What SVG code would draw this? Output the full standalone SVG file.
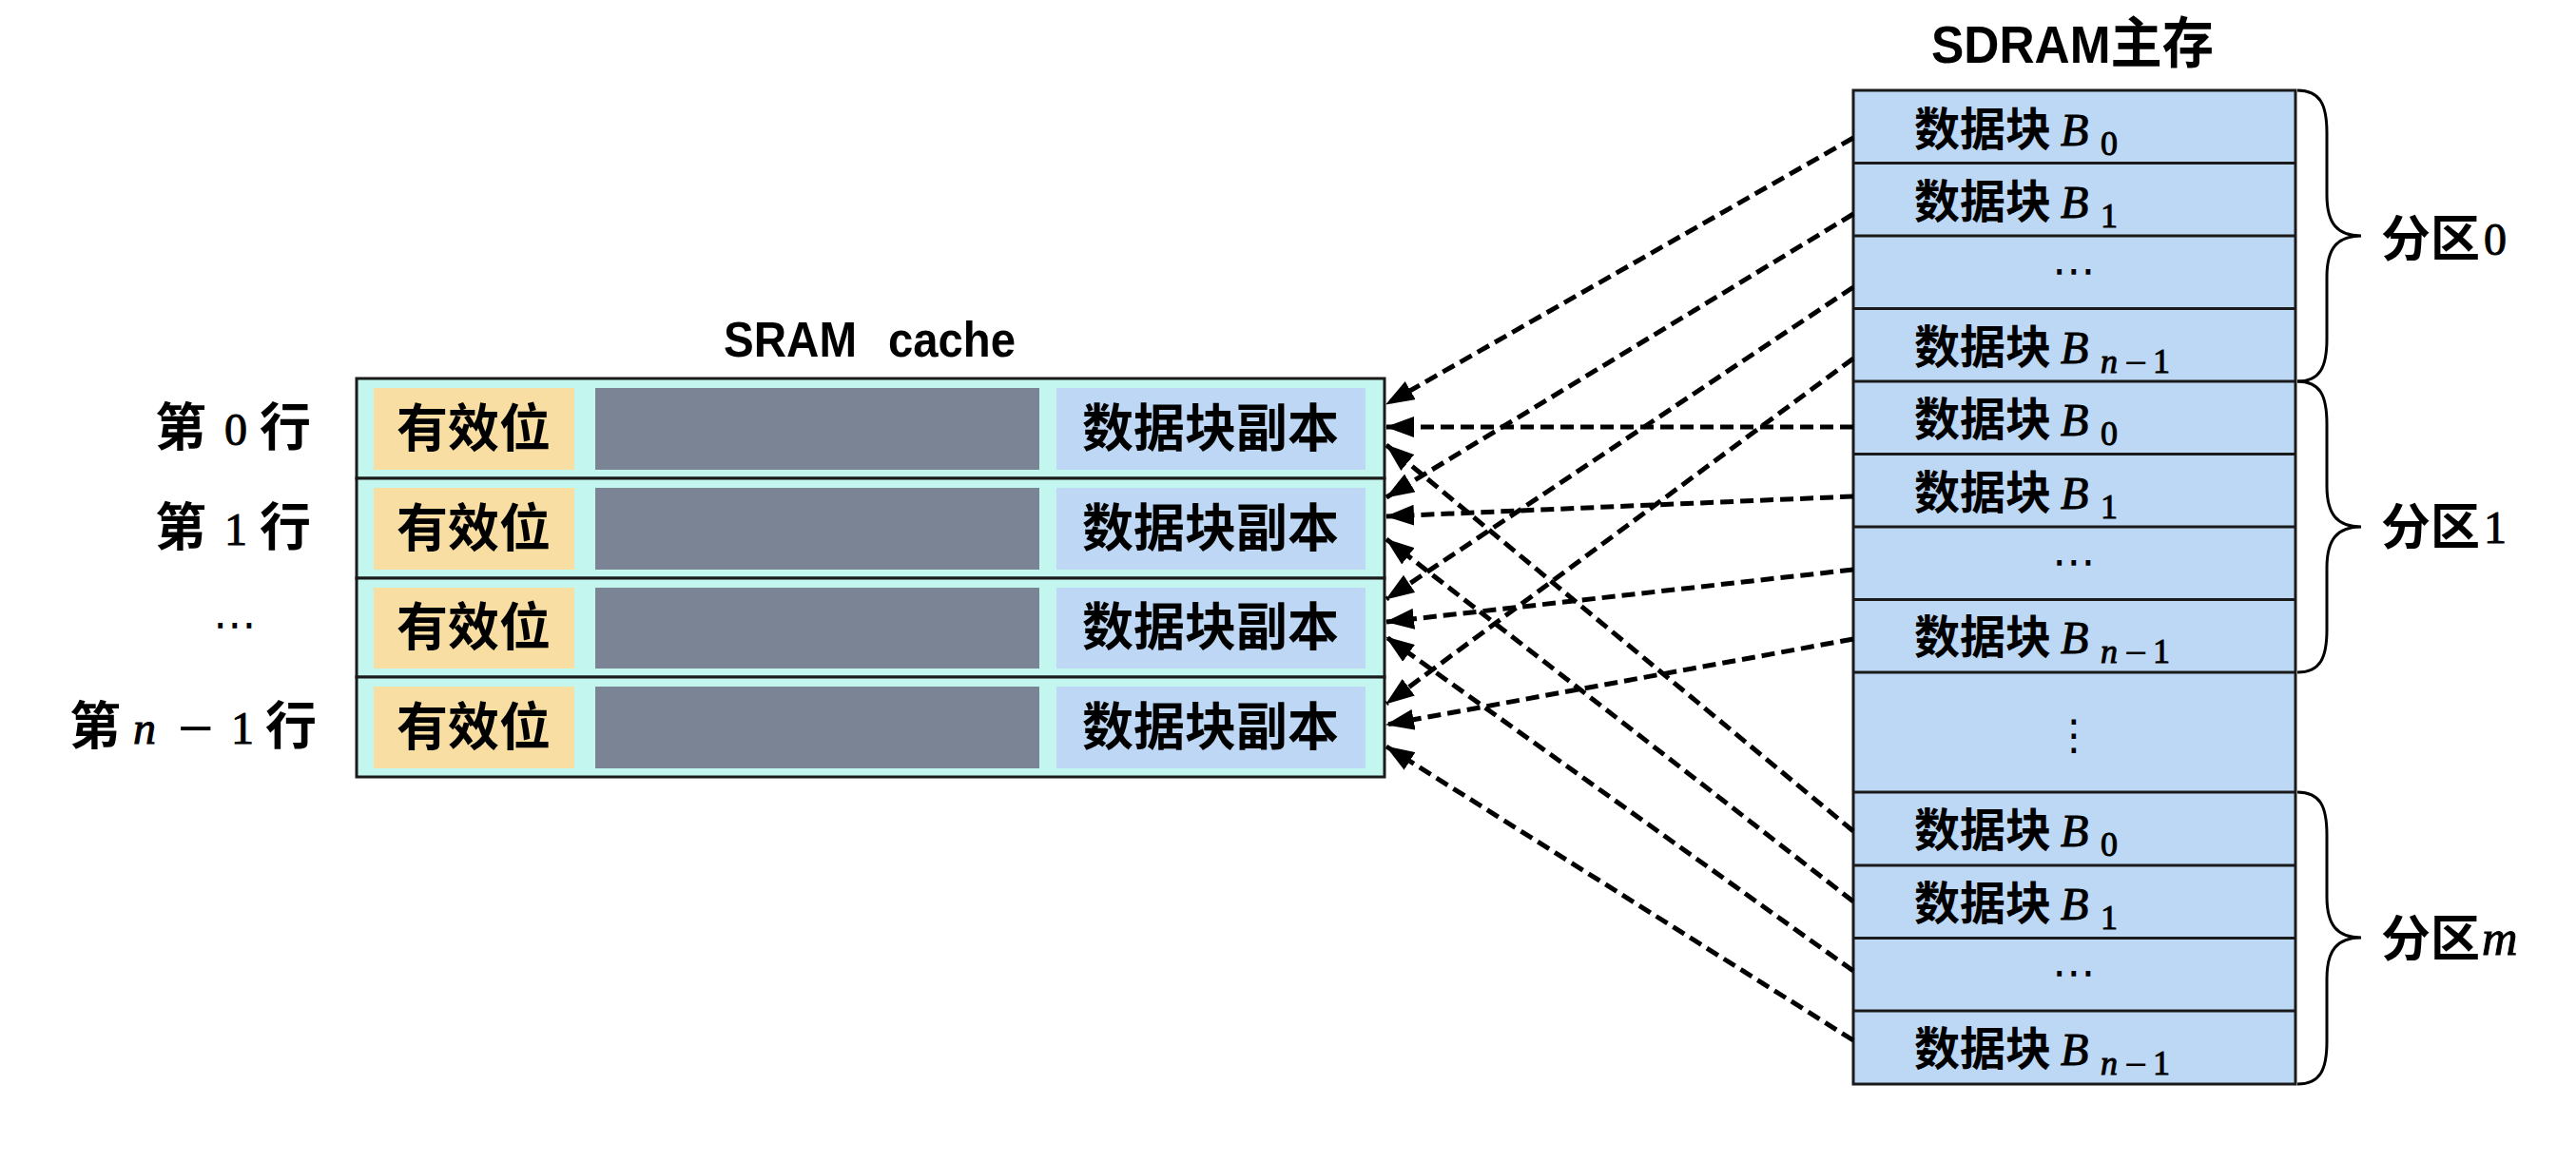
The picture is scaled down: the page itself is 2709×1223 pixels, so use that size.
<svg xmlns="http://www.w3.org/2000/svg" width="2709" height="1223" viewBox="0 0 2709 1223">
<defs>
<style>
.cjk{font-family:"Noto Sans CJK SC","Liberation Sans",sans-serif;font-weight:700;fill:#000}
.lat{font-family:"Liberation Sans",Arial,sans-serif;font-weight:700;fill:#000}
.mi{font-family:"Liberation Serif","DejaVu Serif",serif;font-style:italic;fill:#000;stroke:#000;stroke-width:1}
.mr{font-family:"Liberation Serif","DejaVu Serif",serif;fill:#000;stroke:#000;stroke-width:1}
.mm{font-family:"DejaVu Serif","Liberation Serif",serif;fill:#000}
.dots{font-family:"DejaVu Sans",sans-serif;fill:#000}
.row{fill:#C2F6EE;stroke:#1a1a1a;stroke-width:3}
.valid{fill:#F9DEA3}
.tag{fill:#7A8494}
.copy{fill:#BDD7F4}
.mem{fill:#BDD8F4;stroke:#1a1a1a;stroke-width:3}
.div{stroke:#1a1a1a;stroke-width:3}
.brace{fill:none;stroke:#000;stroke-width:3}
.conn{stroke:#000;stroke-width:5;stroke-dasharray:14 7;fill:none;marker-end:url(#ah)}
</style>
<marker id="ah" markerWidth="30" markerHeight="22" refX="29" refY="11" orient="auto" markerUnits="userSpaceOnUse">
<path d="M0,0 L30,11 L0,22 Z" fill="#000"/>
</marker>
</defs>
<rect width="2709" height="1223" fill="#fff"/>

<!-- Titles -->
<g id="title-sram">
<text class="lat" x="761" y="375" font-size="52" textLength="140" lengthAdjust="spacingAndGlyphs">SRAM</text>
<text class="lat" x="934" y="375" font-size="52" textLength="134" lengthAdjust="spacingAndGlyphs">cache</text>
</g>
<g id="title-sdram">
<text x="2031" y="66" textLength="297" lengthAdjust="spacingAndGlyphs"><tspan class="lat" font-size="55">SDRAM</tspan><tspan class="cjk" font-size="58">主存</tspan></text>
</g>

<!-- Row labels -->
<g id="label-row0">
<text class="cjk" x="163" y="469" font-size="54">第</text>
<text class="mr" x="236" y="468" font-size="48">0</text>
<text class="cjk" x="273" y="469" font-size="54">行</text>
</g>
<g id="label-row1">
<text class="cjk" x="163" y="574" font-size="54">第</text>
<text class="mr" x="236" y="573" font-size="48">1</text>
<text class="cjk" x="273" y="574" font-size="54">行</text>
</g>
<g id="label-row2">
<text class="dots" x="247" y="672" font-size="46" text-anchor="middle">⋯</text>
</g>
<g id="label-row3">
<text class="cjk" x="73" y="783" font-size="54">第</text>
<text class="mi" x="140" y="782" font-size="48">n</text>
<text class="mm" x="185" y="782" font-size="50">−</text>
<text class="mr" x="243" y="782" font-size="48">1</text>
<text class="cjk" x="279" y="783" font-size="54">行</text>
</g>

<!-- Cache rows -->
<g id="cache-row0">
<rect class="row" x="375" y="398" width="1081" height="105"/>
<rect class="valid" x="393" y="408" width="211" height="86"/>
<rect class="tag" x="626" y="408" width="467" height="86"/>
<rect class="copy" x="1111" y="408" width="325" height="86"/>
<text class="cjk" x="498" y="470" font-size="54" text-anchor="middle">有效位</text>
<text class="cjk" x="1273" y="470" font-size="54" text-anchor="middle">数据块副本</text>
</g>
<g id="cache-row1">
<rect class="row" x="375" y="503" width="1081" height="105"/>
<rect class="valid" x="393" y="513" width="211" height="86"/>
<rect class="tag" x="626" y="513" width="467" height="86"/>
<rect class="copy" x="1111" y="513" width="325" height="86"/>
<text class="cjk" x="498" y="575" font-size="54" text-anchor="middle">有效位</text>
<text class="cjk" x="1273" y="575" font-size="54" text-anchor="middle">数据块副本</text>
</g>
<g id="cache-row2">
<rect class="row" x="375" y="608" width="1081" height="104"/>
<rect class="valid" x="393" y="618" width="211" height="85"/>
<rect class="tag" x="626" y="618" width="467" height="85"/>
<rect class="copy" x="1111" y="618" width="325" height="85"/>
<text class="cjk" x="498" y="679" font-size="54" text-anchor="middle">有效位</text>
<text class="cjk" x="1273" y="679" font-size="54" text-anchor="middle">数据块副本</text>
</g>
<g id="cache-row3">
<rect class="row" x="375" y="712" width="1081" height="105"/>
<rect class="valid" x="393" y="722" width="211" height="86"/>
<rect class="tag" x="626" y="722" width="467" height="86"/>
<rect class="copy" x="1111" y="722" width="325" height="86"/>
<text class="cjk" x="498" y="784" font-size="54" text-anchor="middle">有效位</text>
<text class="cjk" x="1273" y="784" font-size="54" text-anchor="middle">数据块副本</text>
</g>

<!-- SDRAM memory -->
<g id="sdram">
<rect class="mem" x="1949" y="95" width="465" height="1045"/>
<line class="div" x1="1949" y1="171.5" x2="2414" y2="171.5"/>
<line class="div" x1="1949" y1="248" x2="2414" y2="248"/>
<line class="div" x1="1949" y1="324.5" x2="2414" y2="324.5"/>
<line class="div" x1="1949" y1="401" x2="2414" y2="401"/>
<line class="div" x1="1949" y1="477.5" x2="2414" y2="477.5"/>
<line class="div" x1="1949" y1="554" x2="2414" y2="554"/>
<line class="div" x1="1949" y1="630.5" x2="2414" y2="630.5"/>
<line class="div" x1="1949" y1="707" x2="2414" y2="707"/>
<line class="div" x1="1949" y1="833" x2="2414" y2="833"/>
<line class="div" x1="1949" y1="910" x2="2414" y2="910"/>
<line class="div" x1="1949" y1="986.5" x2="2414" y2="986.5"/>
<line class="div" x1="1949" y1="1063" x2="2414" y2="1063"/>
</g>

<g id="p0-b0"><text class="cjk" x="2013" y="153" font-size="48">数据块</text><text class="mi" x="2167" y="153" font-size="48">B</text><text class="mr" x="2209" y="163" font-size="36">0</text></g>
<g id="p0-b1"><text class="cjk" x="2013" y="229" font-size="48">数据块</text><text class="mi" x="2167" y="229" font-size="48">B</text><text class="mr" x="2209" y="239" font-size="36">1</text></g>
<g id="p0-dots"><text class="dots" x="2181" y="300" font-size="46" text-anchor="middle">⋯</text></g>
<g id="p0-bn"><text class="cjk" x="2013" y="382" font-size="48">数据块</text><text class="mi" x="2167" y="382" font-size="48">B</text><text class="mi" x="2209" y="392" font-size="36">n</text><text class="mm" x="2233" y="392" font-size="32">−</text><text class="mr" x="2264" y="392" font-size="36">1</text></g>

<g id="p1-b0"><text class="cjk" x="2013" y="458" font-size="48">数据块</text><text class="mi" x="2167" y="458" font-size="48">B</text><text class="mr" x="2209" y="468" font-size="36">0</text></g>
<g id="p1-b1"><text class="cjk" x="2013" y="535" font-size="48">数据块</text><text class="mi" x="2167" y="535" font-size="48">B</text><text class="mr" x="2209" y="545" font-size="36">1</text></g>
<g id="p1-dots"><text class="dots" x="2181" y="606" font-size="46" text-anchor="middle">⋯</text></g>
<g id="p1-bn"><text class="cjk" x="2013" y="687" font-size="48">数据块</text><text class="mi" x="2167" y="687" font-size="48">B</text><text class="mi" x="2209" y="697" font-size="36">n</text><text class="mm" x="2233" y="697" font-size="32">−</text><text class="mr" x="2264" y="697" font-size="36">1</text></g>

<g id="gap-dots"><text class="dots" x="2181" y="788" font-size="44" text-anchor="middle">⋮</text></g>

<g id="pm-b0"><text class="cjk" x="2013" y="890" font-size="48">数据块</text><text class="mi" x="2167" y="890" font-size="48">B</text><text class="mr" x="2209" y="900" font-size="36">0</text></g>
<g id="pm-b1"><text class="cjk" x="2013" y="967" font-size="48">数据块</text><text class="mi" x="2167" y="967" font-size="48">B</text><text class="mr" x="2209" y="977" font-size="36">1</text></g>
<g id="pm-dots"><text class="dots" x="2181" y="1038" font-size="46" text-anchor="middle">⋯</text></g>
<g id="pm-bn"><text class="cjk" x="2013" y="1120" font-size="48">数据块</text><text class="mi" x="2167" y="1120" font-size="48">B</text><text class="mi" x="2209" y="1130" font-size="36">n</text><text class="mm" x="2233" y="1130" font-size="32">−</text><text class="mr" x="2264" y="1130" font-size="36">1</text></g>

<!-- Braces and partition labels -->
<g id="partition0">
<path class="brace" d="M2416,95 C2440,95 2447,110 2447,140 L2447,205 C2447,235 2458,248 2483,248 C2458,248 2447,261 2447,291 L2447,356 C2447,386 2440,401 2416,401"/>
<text class="cjk" x="2504" y="270" font-size="52">分区</text><text class="mr" x="2612" y="268" font-size="48">0</text>
</g>
<g id="partition1">
<path class="brace" d="M2416,401 C2440,401 2447,416 2447,446 L2447,511 C2447,541 2458,554 2483,554 C2458,554 2447,567 2447,597 L2447,662 C2447,692 2440,707 2416,707"/>
<text class="cjk" x="2504" y="573" font-size="52">分区</text><text class="mr" x="2612" y="571" font-size="48">1</text>
</g>
<g id="partitionm">
<path class="brace" d="M2416,833 C2440,833 2447,848 2447,878 L2447,943 C2447,973 2458,986 2483,986 C2458,986 2447,999 2447,1029 L2447,1095 C2447,1125 2440,1140 2416,1140"/>
<text class="cjk" x="2504" y="1006" font-size="52">分区</text><text class="mi" x="2610" y="1004" font-size="52">m</text>
</g>

<!-- Connectors -->
<g id="connectors">
<line class="conn" x1="1949" y1="145" x2="1458" y2="425"/>
<line class="conn" x1="1949" y1="225" x2="1458" y2="523"/>
<line class="conn" x1="1949" y1="302" x2="1458" y2="630"/>
<line class="conn" x1="1949" y1="377" x2="1458" y2="740"/>
<line class="conn" x1="1949" y1="449" x2="1458" y2="449"/>
<line class="conn" x1="1949" y1="522" x2="1458" y2="543"/>
<line class="conn" x1="1949" y1="599" x2="1458" y2="654"/>
<line class="conn" x1="1949" y1="672" x2="1458" y2="762"/>
<line class="conn" x1="1949" y1="874" x2="1458" y2="468"/>
<line class="conn" x1="1949" y1="948" x2="1458" y2="567"/>
<line class="conn" x1="1949" y1="1021" x2="1458" y2="670"/>
<line class="conn" x1="1949" y1="1094" x2="1458" y2="785"/>
</g>
</svg>
